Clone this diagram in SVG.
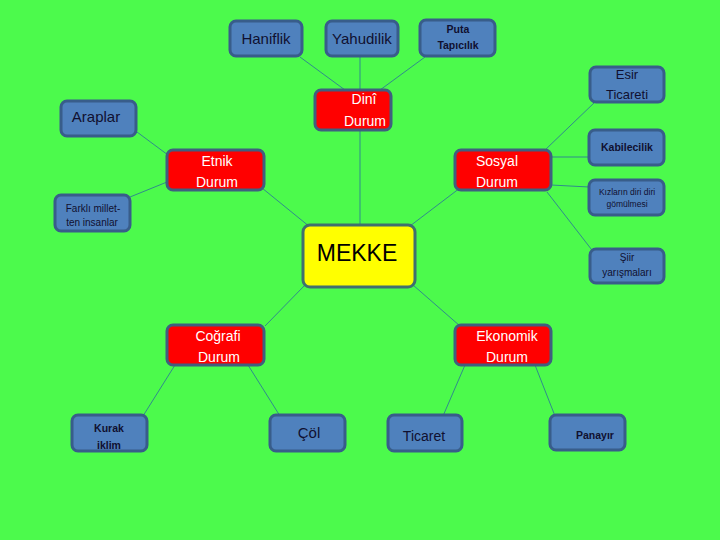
<svg xmlns="http://www.w3.org/2000/svg" width="720" height="540" viewBox="0 0 720 540">
<style>
.b{fill:#4F81BD;stroke:#385D8A;stroke-width:3}
.r{fill:#FF0000;stroke:#3F5F7F;stroke-width:3}
.y{fill:#FFFF00;stroke:#3F6F6F;stroke-width:3}
text{font-family:"Liberation Sans",Arial,sans-serif;text-anchor:middle}
.d{fill:#101030}
.w{fill:#FFFFFF}
.k{fill:#000000}
.bo{font-weight:bold}
#c line{stroke:#2F8C8C;stroke-width:1}
</style>
<rect width="720" height="540" fill="#4CFA4C"/>
<g id="c">
<line x1="300" y1="57" x2="345" y2="90"/>
<line x1="360" y1="57" x2="360" y2="90"/>
<line x1="425" y1="57" x2="380" y2="90"/>
<line x1="595" y1="102" x2="545" y2="150"/>
<line x1="360" y1="130" x2="360" y2="225"/>
<line x1="137" y1="132" x2="168" y2="155"/>
<line x1="167" y1="182" x2="130" y2="197"/>
<line x1="262" y1="188" x2="310" y2="227"/>
<line x1="460" y1="188" x2="410" y2="226"/>
<line x1="551" y1="157" x2="589" y2="157"/>
<line x1="551" y1="185" x2="589" y2="187"/>
<line x1="547" y1="192" x2="595" y2="254"/>
<line x1="305" y1="285" x2="265" y2="326"/>
<line x1="413" y1="285" x2="460" y2="326"/>
<line x1="175" y1="365" x2="143" y2="416"/>
<line x1="248" y1="365" x2="280" y2="416"/>
<line x1="465" y1="365" x2="443" y2="416"/>
<line x1="535" y1="365" x2="555" y2="416"/>
</g>
<g id="haniflik"><rect class="b" x="230" y="21" width="72" height="35" rx="6"/><text class="d" x="266" y="44" font-size="15">Haniflik</text></g>
<g id="yahudilik"><rect class="b" x="326" y="21" width="72" height="35" rx="6"/><text class="d" x="362" y="44" font-size="15">Yahudilik</text></g>
<g id="puta"><rect class="b" x="420" y="20" width="75" height="36" rx="6"/><text class="d bo" x="458" y="33" font-size="10.5">Puta</text><text class="d bo" x="458" y="49" font-size="10.5">Tapıcılık</text></g>
<g id="esir"><rect class="b" x="590" y="67" width="74" height="35" rx="6"/><text class="d" x="627" y="79" font-size="13">Esir</text><text class="d" x="627" y="99" font-size="13">Ticareti</text></g>
<g id="araplar"><rect class="b" x="61" y="101" width="75" height="35" rx="6"/><text class="d" x="96" y="122" font-size="15">Araplar</text></g>
<g id="dini"><rect class="r" x="315" y="90" width="76" height="40" rx="6"/><text class="w" x="364" y="104" font-size="14">Dinî</text><text class="w" x="365" y="126" font-size="14">Durum</text></g>
<g id="etnik"><rect class="r" x="167" y="150" width="97" height="40" rx="6"/><text class="w" x="217" y="166" font-size="14">Etnik</text><text class="w" x="217" y="187" font-size="14">Durum</text></g>
<g id="sosyal"><rect class="r" x="455" y="150" width="96" height="40" rx="6"/><text class="w" x="497" y="166" font-size="14">Sosyal</text><text class="w" x="497" y="187" font-size="14">Durum</text></g>
<g id="kabilecilik"><rect class="b" x="589" y="130" width="75" height="35" rx="6"/><text class="d bo" x="627" y="151" font-size="10.5">Kabilecilik</text></g>
<g id="kizlarin"><rect class="b" x="589" y="180" width="75" height="35" rx="6"/><text class="d" x="627" y="195" font-size="8.5">Kızların diri diri</text><text class="d" x="627" y="207" font-size="8.5">gömülmesi</text></g>
<g id="farkli"><rect class="b" x="55" y="195" width="75" height="36" rx="6"/><text class="d" x="93" y="212" font-size="10">Farklı millet-</text><text class="d" x="92" y="226" font-size="10">ten insanlar</text></g>
<g id="mekke"><rect class="y" x="303" y="225" width="112" height="62" rx="7"/><text class="k" x="357" y="261" font-size="23">MEKKE</text></g>
<g id="siir"><rect class="b" x="590" y="249" width="74" height="34" rx="6"/><text class="d" x="627" y="261" font-size="10">Şiir</text><text class="d" x="627" y="276" font-size="10">yarışmaları</text></g>
<g id="cografi"><rect class="r" x="167" y="325" width="97" height="40" rx="6"/><text class="w" x="218" y="341" font-size="14">Coğrafi</text><text class="w" x="219" y="362" font-size="14">Durum</text></g>
<g id="ekonomik"><rect class="r" x="455" y="325" width="96" height="40" rx="6"/><text class="w" x="507" y="341" font-size="14">Ekonomik</text><text class="w" x="507" y="362" font-size="14">Durum</text></g>
<g id="kurak"><rect class="b" x="72" y="415" width="75" height="36" rx="6"/><text class="d bo" x="109" y="432" font-size="10.5">Kurak</text><text class="d bo" x="109" y="449" font-size="10.5">iklim</text></g>
<g id="col"><rect class="b" x="270" y="415" width="75" height="36" rx="6"/><text class="d" x="309" y="438" font-size="15">Çöl</text></g>
<g id="ticaret"><rect class="b" x="388" y="415" width="74" height="36" rx="6"/><text class="d" x="424" y="441" font-size="14">Ticaret</text></g>
<g id="panayir"><rect class="b" x="550" y="415" width="75" height="35" rx="6"/><text class="d bo" x="595" y="439" font-size="10.5">Panayır</text></g>
</svg>
